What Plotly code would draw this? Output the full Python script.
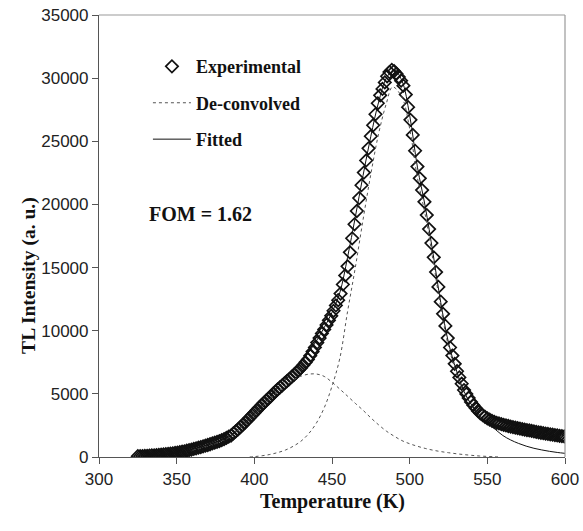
import plotly.graph_objects as go

# ---------------- data ----------------
exp_temp = [
    325.0, 326.5, 328.0, 329.5, 331.0, 332.5, 334.0, 335.5, 337.0, 338.5,
    340.0, 341.5, 343.0, 344.5, 346.0, 347.5, 349.0, 350.5, 352.0, 353.5,
    355.0, 356.5, 358.0, 359.5, 361.0, 362.5, 364.0, 365.5, 367.0, 368.5,
    370.0, 371.5, 373.0, 374.5, 376.0, 377.5, 379.0, 380.5, 382.0, 383.5,
    385.0, 386.5, 388.0, 389.5, 391.0, 392.5, 394.0, 395.5, 397.0, 398.5,
    400.0, 401.5, 403.0, 404.5, 406.0, 407.5, 409.0, 410.5, 412.0, 413.5,
    415.0, 416.5, 418.0, 419.5, 421.0, 422.5, 424.0, 425.5, 427.0, 428.5,
    430.0, 431.5, 433.0, 434.5, 436.0, 437.5, 439.0, 440.5, 442.0, 443.5,
    445.0, 446.5, 448.0, 449.5, 451.0, 452.5, 454.0, 455.5, 457.0, 458.5,
    460.0, 461.5, 463.0, 464.5, 466.0, 467.5, 469.0, 470.5, 472.0, 473.5,
    475.0, 476.5, 478.0, 479.5, 481.0, 482.5, 484.0, 485.5, 487.0, 488.5,
    490.0, 491.5, 493.0, 494.5, 496.0, 497.5, 499.0, 500.5, 502.0, 503.5,
    505.0, 506.5, 508.0, 509.5, 511.0, 512.5, 514.0, 515.5, 517.0, 518.5,
    520.0, 521.5, 523.0, 524.5, 526.0, 527.5, 529.0, 530.5, 532.0, 533.5,
    535.0, 536.5, 538.0, 539.5, 541.0, 542.5, 544.0, 545.5, 547.0, 548.5,
    550.0, 551.5, 553.0, 554.5, 556.0, 557.5, 559.0, 560.5, 562.0, 563.5,
    565.0, 566.5, 568.0, 569.5, 571.0, 572.5, 574.0, 575.5, 577.0, 578.5,
    580.0, 581.5, 583.0, 584.5, 586.0, 587.5, 589.0, 590.5, 592.0, 593.5,
    595.0, 596.5, 598.0, 599.5,
]
exp_tl = [
    60, 69, 78, 87, 98, 110, 122, 135, 150, 165,
    180, 201, 222, 243, 268, 295, 322, 353, 386, 419,
    450, 495, 540, 585, 634, 685, 736, 788, 842, 896,
    950, 1010, 1070, 1130, 1196, 1265, 1334, 1412, 1508, 1604,
    1700, 1865, 2030, 2195, 2370, 2550, 2730, 2915, 3110, 3305,
    3500, 3695, 3890, 4085, 4270, 4450, 4630, 4810, 4990, 5170,
    5350, 5515, 5680, 5845, 6010, 6175, 6340, 6510, 6690, 6870,
    7050, 7275, 7500, 7725, 8020, 8350, 8680, 9060, 9420, 9780,
    10100, 10460, 10820, 11180, 11580, 12000, 12420, 12940, 13660, 14380,
    15100, 16210, 17320, 18430, 19480, 20500, 21520, 22520, 23480, 24440,
    25400, 26270, 27140, 28010, 28640, 29150, 29660, 30150, 30480, 30650,
    30550, 30350, 30100, 29800, 29400, 28700, 27700, 26700, 25500, 24250,
    23000, 22070, 21140, 20210, 19160, 18050, 16940, 15810, 14640, 13470,
    12300, 11340, 10380, 9420, 8670, 8030, 7380, 6790, 6300, 5800,
    5300, 4990, 4670, 4360, 4100, 3880, 3650, 3455, 3320, 3185,
    3050, 2960, 2870, 2780, 2710, 2655, 2600, 2545, 2500, 2455,
    2410, 2370, 2330, 2295, 2255, 2215, 2175, 2135, 2100, 2060,
    2020, 1985, 1955, 1920, 1890, 1860, 1830, 1800, 1770, 1740,
    1710, 1680, 1650, 1625,
]

# de-convolved peak 1 (low-temperature component)
peak1_temp = [360, 365, 370, 375, 380, 385, 390, 395, 400, 405, 410, 415, 420, 425,
              430, 435, 440, 445, 450, 455, 460, 465, 470, 475, 480, 485, 490, 495,
              500, 505, 510, 515, 520, 525, 530, 535, 540, 545, 550, 555, 558]
peak1_tl = [550, 720, 900, 1100, 1330, 1650, 2200, 2800, 3400, 4000, 4600, 5150, 5650, 6100,
            6400, 6560, 6570, 6380, 5920, 5380, 4820, 4250, 3700, 3100, 2550, 2050, 1650, 1300,
            1050, 850, 680, 540, 430, 340, 260, 190, 130, 80, 45, 20, 10]

# de-convolved peak 2 (main component)
peak2_temp = [397, 400, 405, 410, 415, 420, 425, 430, 435, 440, 445, 450, 455, 460,
              465, 470, 475, 480, 485, 489, 495, 500, 505, 510, 515, 520, 525, 530,
              535, 540, 545]
peak2_tl = [0, 30, 100, 200, 350, 550, 850, 1250, 1850, 2700, 3900, 5600, 7800, 11500,
            15000, 18800, 22400, 25600, 28000, 29300, 28500, 26000, 22100, 19200, 15600, 11850, 8750, 6700,
            5100, 4100, 3300]

# fitted curve
fit_temp = [325, 330, 335, 340, 345, 350, 355, 360, 365, 370, 375, 380, 385, 390,
            395, 400, 405, 410, 415, 420, 425, 430, 435, 440, 445, 450, 455, 460,
            465, 470, 475, 480, 485, 490, 495, 500, 505, 510, 515, 520, 525, 530,
            535, 540, 545, 550, 555, 560, 565, 570, 575, 580, 585, 590, 595, 600]
fit_tl = [60, 90, 130, 180, 250, 340, 450, 600, 770, 950, 1150, 1380, 1700, 2250,
          2850, 3450, 4100, 4800, 5500, 6100, 6800, 7500, 8300, 9200, 10250, 11450, 13000, 15800,
          19000, 22300, 25400, 28100, 30000, 30650, 29800, 27050, 22950, 19850, 16150, 12250, 9050, 6900,
          5200, 4100, 3300, 2700, 2200, 1700, 1350, 1080, 860, 690, 560, 450, 360, 290]

x_ticks = [300, 350, 400, 450, 500, 550, 600]
y_ticks = [0, 5000, 10000, 15000, 20000, 25000, 30000, 35000]

SERIF = "Liberation Serif, Times New Roman, serif"
SANS = "Liberation Sans, Arial, sans-serif"

fig = go.Figure()

fig.add_trace(go.Scatter(
    x=exp_temp, y=exp_tl, mode="markers", name="<b>Experimental</b>", legendgroup="a",
    marker=dict(symbol="diamond-open", size=9.5, color="#111111", line=dict(width=1.7, color="#111111")),
))
fig.add_trace(go.Scatter(
    x=peak1_temp, y=peak1_tl, mode="lines", name="<b>De-convolved</b>", legendgroup="b",
    line=dict(color="#555555", width=1, dash="dot", shape="spline"),
))
fig.add_trace(go.Scatter(
    x=peak2_temp, y=peak2_tl, mode="lines", name="De-convolved", legendgroup="b", showlegend=False,
    line=dict(color="#555555", width=1, dash="dot", shape="spline"),
))
fig.add_trace(go.Scatter(
    x=fit_temp, y=fit_tl, mode="lines", name="<b>Fitted</b>", legendgroup="c",
    line=dict(color="#111111", width=1, shape="spline"),
))

fig.update_layout(
    width=583, height=531,
    margin=dict(l=99, r=18, t=15, b=74),
    paper_bgcolor="white", plot_bgcolor="white",
    showlegend=True,
    legend=dict(
        x=0.105, y=0.925, xanchor="left", yanchor="top",
        bgcolor="rgba(0,0,0,0)", borderwidth=0,
        font=dict(family=SERIF, size=18, color="#111111"),
        itemwidth=38, tracegroupgap=10, traceorder="grouped",
    ),
    xaxis=dict(
        range=[300, 600], tickvals=x_ticks, ticktext=[str(v) for v in x_ticks],
        showgrid=False, zeroline=False,
        showline=True, linecolor="#555555", linewidth=1.2,
        ticks="outside", ticklen=6, tickcolor="#555555",
        tickfont=dict(family=SANS, size=17, color="#222222"),
        automargin=False,
    ),
    yaxis=dict(
        range=[0, 35000], tickvals=y_ticks, ticktext=[str(v) for v in y_ticks],
        showgrid=False, zeroline=False,
        showline=True, linecolor="#555555", linewidth=1.2,
        ticks="outside", ticklen=6, tickcolor="#555555",
        tickfont=dict(family=SANS, size=17, color="#222222"),
        automargin=False,
    ),
    shapes=[
        dict(type="line", xref="paper", yref="paper", x0=0, x1=1, y0=1, y1=1,
             line=dict(color="#999999", width=1.2)),
        dict(type="line", xref="paper", yref="paper", x0=1, x1=1, y0=0, y1=1,
             line=dict(color="#999999", width=1.2)),
    ],
    annotations=[
        dict(text="<b>Temperature (K)</b>", xref="paper", yref="paper", x=0.5, y=-0.1,
             xanchor="center", yanchor="middle", showarrow=False,
             font=dict(family=SERIF, size=20, color="#111111")),
        dict(text="<b>TL Intensity (a. u.)</b>", xref="paper", yref="paper", x=-0.15, y=0.41,
             xanchor="center", yanchor="middle", showarrow=False, textangle=-90,
             font=dict(family=SERIF, size=19.5, color="#111111")),
        dict(text="<b>FOM = 1.62</b>", xref="paper", yref="paper", x=0.217, y=0.55,
             xanchor="center", yanchor="middle", showarrow=False,
             font=dict(family=SERIF, size=20, color="#111111")),
    ],
)

post = (
    "document.body.style.margin='0';document.body.style.padding='0';"
    "document.documentElement.style.overflow='hidden';"
    "var gd=document.getElementById('{plot_id}');"
    "Plotly.relayout(gd,{width:583,height:531});"
)

fig.write_html("out.html", post_script=post, config={"displayModeBar": False})
